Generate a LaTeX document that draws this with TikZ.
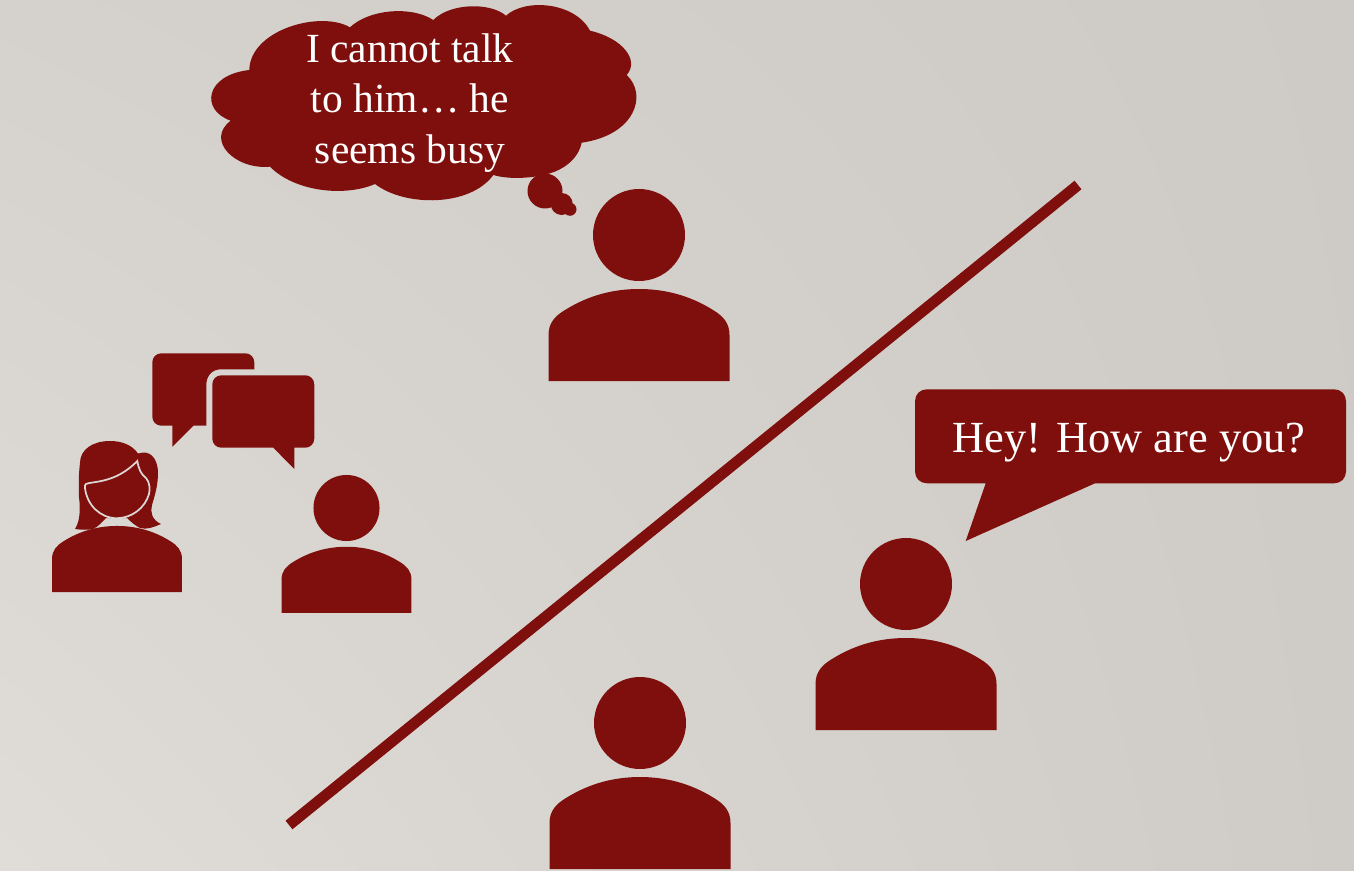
\documentclass[tikz,border=0pt]{standalone}
\usepackage{fontspec}
\setmainfont{Liberation Serif}
\usetikzlibrary{shadings,positioning}
\definecolor{maroon}{HTML}{7F0F0C}
\newcommand{\torsoshape}{(-90.5,146) -- (-90.5,100) .. controls (-90.5,88) and (-84,81) .. (-74,75)
  .. controls (-50,60) and (-25,54) .. (0,54) .. controls (25,54) and (50,60) .. (74,75)
  .. controls (84,81) and (90.5,88) .. (90.5,100) -- (90.5,146) -- cycle}

\begin{document}
\begin{tikzpicture}[
  x=0.02cm, y=-0.02cm,
  ink/.style={fill=maroon, draw=none},
  saying/.style={text=white, align=center, font=\fontsize{25.3}{28.9}\selectfont, inner sep=0pt},
  musing/.style={saying, font=\fontsize{23.6}{28.9}\selectfont},
  torso/.pic={\fill[ink] \torsoshape;},
  person/.pic={\fill[ink] (0,0) circle[radius=46] \torsoshape;}
]

% backdrop
\shade[upper left={rgb,255:red,213;green,210;blue,205}, upper right={rgb,255:red,206;green,202;blue,197},
  lower left={rgb,255:red,224;green,221;blue,217}, lower right={rgb,255:red,207;green,203;blue,198}]
  (0,0) rectangle (1354,871);
\useasboundingbox (0,0) rectangle (1354,871);

% divider
\draw[maroon, line width=0.22cm] (1078,185) -- (289,825);

% people
\pic at (639,235) {person};
\pic at (906,584) {person};
\pic at (640,723) {person};
\pic[scale=0.718] at (346.5,508) {person};
\pic[scale=0.718] at (117,487.2) {torso};

% woman: hair and face
\fill[ink] (110,441) .. controls (92,441) and (80,450) .. (80,463)
  .. controls (78,480) and (79,490) .. (79,497) .. controls (80,505) and (81,520) .. (75,529)
  .. controls (82,530) and (88,530) .. (93,529) .. controls (98,527) and (102,522) .. (106,518)
  -- (127,518) .. controls (131,522) and (136,526) .. (140,528)
  .. controls (147,530) and (154,527) .. (161,524) .. controls (152,520) and (150,512) .. (152,505)
  .. controls (155,495) and (158,485) .. (158,473) .. controls (158,462) and (153,452) .. (143,452.5)
  .. controls (141,452.5) and (140,453) .. (138,453.5) .. controls (132,445) and (122,441) .. (110,441) -- cycle;
\draw[ink, draw=white!70!maroon!45!gray!40!white, line width=0.035cm] (86,484)
  .. controls (92,481) and (115,484) .. (137.3,461)
  .. controls (139,470) and (141,474) .. (146,478)
  .. controls (150,482) and (150,490) .. (149,494)
  .. controls (145,508) and (132,518) .. (116.7,518.3)
  .. controls (100,518) and (87,505) .. (85,488) .. controls (84.5,486) and (85,485) .. (86,484) -- cycle;

% small talk bubbles
\fill[ink] (161.3,353.3) -- (245.3,353.3) .. controls (250.3,353.3) and (254.3,357.3) .. (254.3,362.3)
  -- (254.3,369.3) -- (221,369.3) .. controls (212,369.3) and (206.3,376) .. (206.3,385)
  -- (206.3,425.7) -- (193.3,425.7) -- (172.3,446.7) -- (172.3,425.7) -- (161.3,425.7)
  .. controls (156.3,425.7) and (152.3,421.7) .. (152.3,416.7) -- (152.3,362.3)
  .. controls (152.3,357.3) and (156.3,353.3) .. (161.3,353.3) -- cycle;
\fill[ink] (221.3,375.3) -- (305.3,375.3) .. controls (310.3,375.3) and (314.3,379.3) .. (314.3,384.3)
  -- (314.3,438.7) .. controls (314.3,443.7) and (310.3,447.7) .. (305.3,447.7)
  -- (294.3,447.7) -- (294.3,469) -- (273.3,447.7) -- (221.3,447.7)
  .. controls (216.3,447.7) and (212.3,443.7) .. (212.3,438.7) -- (212.3,384.3)
  .. controls (212.3,379.3) and (216.3,375.3) .. (221.3,375.3) -- cycle;

% thought cloud
\fill[ink] (249.3,70) .. controls (250,30) and (320,10) .. (350,27.3)
  .. controls (368,10) and (410,5) .. (433.3,20)
  .. controls (450,3) and (490,2) .. (506,15.7)
  .. controls (525,-2) and (575,2) .. (590,30.7)
  .. controls (622,38) and (640,60) .. (626.7,75)
  .. controls (648,95) and (635,135) .. (581.7,142.7)
  .. controls (578,160) and (562,170) .. (550,173.3)
  .. controls (535,178) and (510,180) .. (493.3,175)
  .. controls (470,207) and (405,207) .. (375,184)
  .. controls (345,197) and (295,192) .. (270,166.7)
  .. controls (235,170) and (205,140) .. (230.7,120.7)
  .. controls (200,110) and (205,75) .. (249.3,70) -- cycle;
\foreach \cx/\cy/\rr in {545/191/17.5, 561.7/204/11, 570/209.3/6.5}
  \fill[ink] (\cx,\cy) circle[radius=\rr];
\node[musing] (thought) at (410,103) {I cannot talk\\to him\ldots\ he\\seems busy};

% speech bubble
\fill[ink] (927,389.3) -- (1334,389.3) .. controls (1341,389.3) and (1346,394.3) .. (1346,401.3)
  -- (1346,471.3) .. controls (1346,478.3) and (1341,483.3) .. (1334,483.3)
  -- (1095,483.3) -- (965.7,541) -- (985.7,483.3) -- (927,483.3)
  .. controls (920,483.3) and (915,478.3) .. (915,471.3) -- (915,401.3)
  .. controls (915,394.3) and (920,389.3) .. (927,389.3) -- cycle;
\node[saying] (greeting) at (1129,442.5) {Hey! How are you?};

\end{tikzpicture}
\end{document}
